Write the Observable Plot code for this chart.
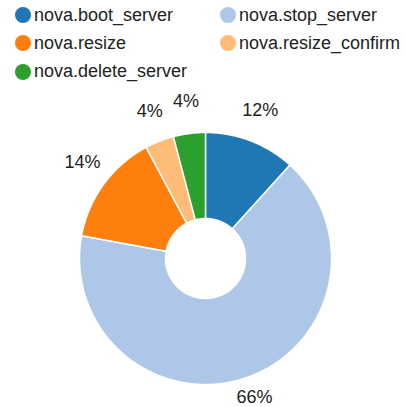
<!DOCTYPE html>
<html><head><meta charset="utf-8">
<script src="https://cdn.jsdelivr.net/npm/d3@7"></script>
<script src="https://cdn.jsdelivr.net/npm/@observablehq/plot@0.6"></script>
<style>
body{margin:0;background:#fff;font-family:"Liberation Sans",Arial,sans-serif;}
#legend{position:relative;width:406px;height:84px;}
#chart svg{display:block;}
.item{position:absolute;display:flex;align-items:center;font-size:18px;color:#222;height:20px;white-space:nowrap;}
.sw{width:16px;height:16px;border-radius:50%;margin-right:3px;flex:none;}
</style></head><body>
<div id="legend"></div><div id="chart"></div>
<script>
const categories = ["nova.boot_server", "nova.stop_server", "nova.resize", "nova.resize_confirm", "nova.delete_server"];
const values = [11.7, 66.2, 14.3, 3.7, 4.1];
const colors = ["#1f77b4", "#aec7e8", "#ff7f0e", "#ffbb78", "#2ca02c"];

const data = categories.map((c, i) => ({cat: c, value: values[i]}));
const total = d3.sum(values);

// legend
const legend = document.getElementById("legend");
categories.forEach((c, i) => {
  const col = i % 2, row = Math.floor(i / 2);
  const it = document.createElement("div");
  it.className = "item";
  it.style.left = (col ? 220 : 15) + "px";
  it.style.top = (5 + row * 28.3) + "px";
  const sw = document.createElement("span");
  sw.className = "sw";
  sw.style.background = colors[i];
  const tx = document.createElement("span");
  tx.textContent = c;
  it.appendChild(sw); it.appendChild(tx);
  legend.appendChild(it);
});

const arcs = d3.pie().sort(null).value(d => d.value)(data);
const inner = 40 / 126;
const poly = [];
arcs.forEach(a => {
  const span = a.endAngle - a.startAngle;
  const n = Math.max(2, Math.ceil(span / 0.01));
  const pts = [];
  for (let k = 0; k <= n; k++) { const t = a.startAngle + span * k / n; pts.push({cat: a.data.cat, x: Math.sin(t), y: Math.cos(t)}); }
  for (let k = n; k >= 0; k--) { const t = a.startAngle + span * k / n; pts.push({cat: a.data.cat, x: inner * Math.sin(t), y: inner * Math.cos(t)}); }
  pts.push(pts[0]);
  poly.push(...pts);
});
const labels = arcs.map(a => {
  const m = (a.startAngle + a.endAngle) / 2;
  return {x: 1.21 * Math.sin(m), y: 1.21 * Math.cos(m), text: Math.round(a.data.value / total * 100) + "%"};
});

const chart = Plot.plot({
  width: 406, height: 323, margin: 0,
  style: {fontFamily: '"Liberation Sans", Arial, sans-serif', background: "#fff"},
  x: {domain: [-1, 1], range: [79, 331], axis: null},
  y: {domain: [-1, 1], range: [300, 48], axis: null},
  color: {domain: categories, range: colors},
  marks: [
    Plot.line(poly, {x: "x", y: "y", z: "cat", fill: "cat", stroke: "white", strokeWidth: 1.5, curve: "linear"}),
    Plot.text(labels, {x: "x", y: "y", text: "text", fontSize: 18, lineAnchor: "bottom", textAnchor: "middle", fill: "#222"})
  ]
});
document.getElementById("chart").appendChild(chart);
</script>
</body></html>
